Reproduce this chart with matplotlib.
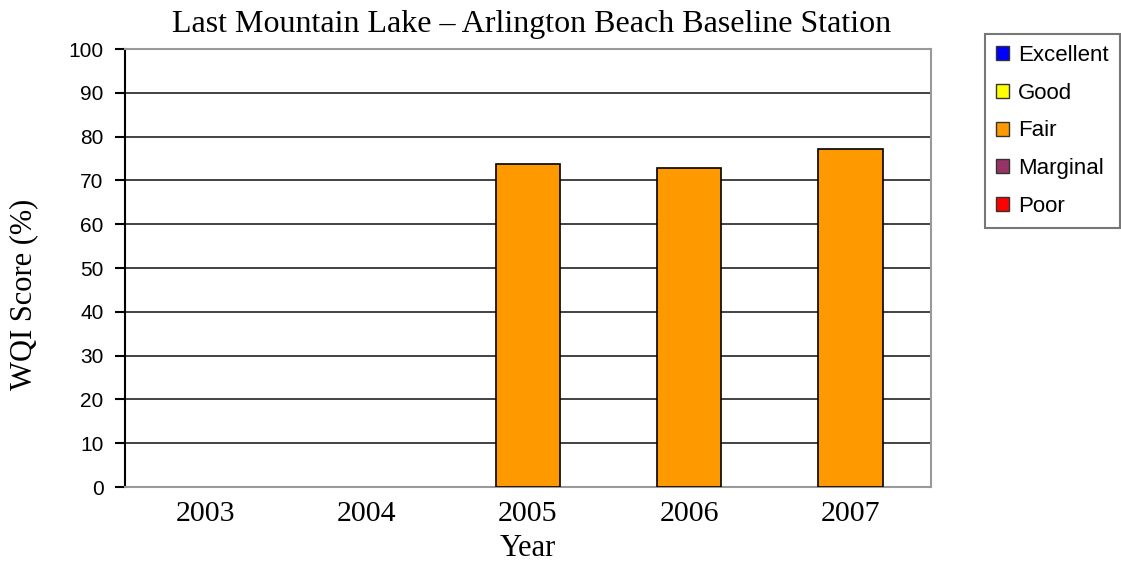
import matplotlib.pyplot as plt
from matplotlib.patches import Patch
import numpy as np

# Data
years = ['2003', '2004', '2005', '2006', '2007']
wqi_scores = [np.nan, np.nan, 73.7, 72.9, 77.2]
categories = ['Excellent', 'Good', 'Fair', 'Marginal', 'Poor']
category_colors = ['#0000ff', '#ffff00', '#ff9900', '#993366', '#ff0000']

fig = plt.figure(figsize=(11.21, 5.67), dpi=100)
ax = fig.add_axes([0.1115, 0.141, 0.719, 0.7725])

x = np.arange(len(years))
ax.bar(x, wqi_scores, width=0.4, color='#ff9900', edgecolor='black', linewidth=1.2, zorder=3)

ax.set_xlim(-0.5, len(years) - 0.5)
ax.set_ylim(0, 100)
ax.set_yticks(np.arange(0, 101, 10))
ax.yaxis.grid(True, color='#222222', linewidth=1.2, zorder=0)
ax.set_axisbelow(True)

ax.set_xticks(x)
ax.set_xticklabels(years, fontfamily='Liberation Serif', fontsize=21.5)
ax.tick_params(axis='x', length=0, pad=10)
ax.tick_params(axis='y', length=7, width=1.5, labelsize=15, pad=8.5)
for lbl in ax.get_yticklabels():
    lbl.set_fontfamily('Liberation Sans')

for side in ['top', 'right', 'bottom']:
    ax.spines[side].set_color('#999999')
    ax.spines[side].set_linewidth(1.5)
ax.spines['left'].set_color('black')
ax.spines['left'].set_linewidth(1.5)

ax.set_xlabel('Year', fontfamily='Liberation Serif', fontsize=22, labelpad=5)
fig.text(0.021, 0.481, 'WQI Score (%)', rotation=90, ha='center', va='center',
         fontfamily='Liberation Serif', fontsize=22)
fig.text(0.474, 0.944, 'Last Mountain Lake \u2013 Arlington Beach Baseline Station',
         fontfamily='Liberation Serif', fontsize=23, ha='center', va='baseline')

handles = [Patch(facecolor=c, edgecolor='#333333', label=l) for c, l in zip(category_colors, categories)]
leg = fig.legend(handles=handles, loc='upper left', bbox_to_anchor=(0.8787, 0.94),
                 borderaxespad=0,
                 prop={'family': 'Liberation Sans', 'size': 16}, frameon=True, fancybox=False,
                 edgecolor='#555555', handlelength=0.6, handleheight=0.6, handletextpad=0.4,
                 labelspacing=0.75, borderpad=0.5)
leg.get_frame().set_linewidth(1.5)

fig.savefig('out.png', dpi=100)
